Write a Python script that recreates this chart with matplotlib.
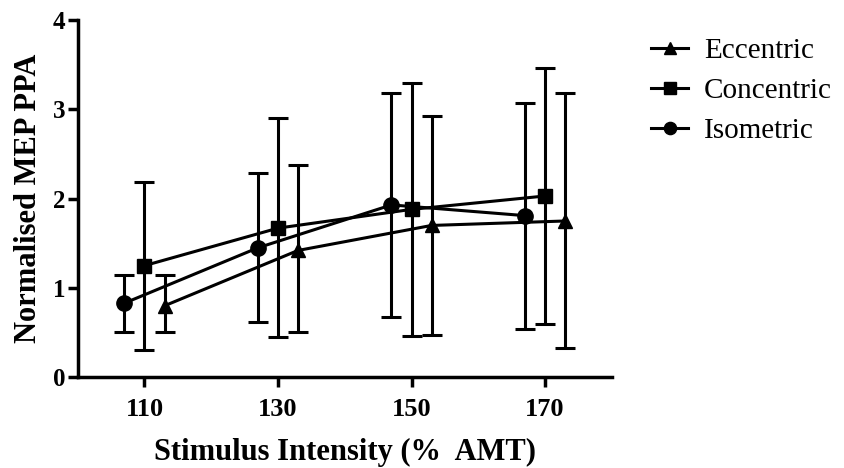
import matplotlib
matplotlib.use("Agg")
import matplotlib.pyplot as plt
from matplotlib.lines import Line2D

# stimulus intensities (%AMT); groups are offset a little so error bars don't overlap
intensity = [110, 130, 150, 170]
offsets = {"Eccentric": 3, "Concentric": 0, "Isometric": -3}

ecc_mean = [0.80, 1.42, 1.70, 1.75]
ecc_hi = [1.14, 2.38, 2.93, 3.18]
ecc_lo = [0.51, 0.51, 0.47, 0.33]

con_mean = [1.25, 1.67, 1.88, 2.03]
con_hi = [2.19, 2.90, 3.30, 3.46]
con_lo = [0.31, 0.45, 0.46, 0.60]

iso_mean = [0.83, 1.45, 1.93, 1.81]
iso_hi = [1.14, 2.29, 3.18, 3.07]
iso_lo = [0.51, 0.62, 0.68, 0.54]

series = [
    ("Eccentric", ecc_mean, ecc_lo, ecc_hi, "^", 10),
    ("Concentric", con_mean, con_lo, con_hi, "s", 10),
    ("Isometric", iso_mean, iso_lo, iso_hi, "o", 11),
]

plt.rcParams["font.family"] = ["Liberation Serif", "DejaVu Serif"]

fig = plt.figure(figsize=(8.45, 4.68), dpi=100)
ax = fig.add_axes([0.092, 0.194, 0.632, 0.763])

handles = []
for name, mean, lo, hi, marker, ms in series:
    x = [v + offsets[name] for v in intensity]
    yerr = [[m - l for m, l in zip(mean, lo)], [h - m for m, h in zip(mean, hi)]]
    ax.errorbar(x, mean, yerr=yerr, color="black", lw=2.2, marker=marker,
                ms=ms, capsize=7, capthick=2.2, elinewidth=2.2)
    handles.append(Line2D([], [], color="black", lw=2.2, marker=marker,
                          ms=ms * 0.8, label=name))

ax.set_xlim(100, 180)
ax.set_ylim(0, 4)
ax.set_xticks(intensity)
ax.set_yticks([0, 1, 2, 3, 4])
for side in ("top", "right"):
    ax.spines[side].set_visible(False)
for side in ("left", "bottom"):
    ax.spines[side].set_linewidth(2.5)
ax.tick_params(width=2.5, length=7)
ax.tick_params(axis="x", pad=8, labelsize=19)
ax.tick_params(axis="y", pad=2, labelsize=18)
for lab in ax.get_xticklabels() + ax.get_yticklabels():
    lab.set_fontweight("bold")

ax.set_xlabel("Stimulus Intensity (%  AMT)", fontsize=22, fontweight="bold",
              labelpad=12)
ax.set_ylabel("Normalised MEP PPA", fontsize=22, fontweight="bold", labelpad=7)

fig.legend(handles=handles, loc="upper left", bbox_to_anchor=(0.757, 0.945),
           frameon=False, fontsize=21, handlelength=1.25, labelspacing=0.47,
           borderaxespad=0.0, handletextpad=0.55)

fig.savefig("out.png", dpi=100)
